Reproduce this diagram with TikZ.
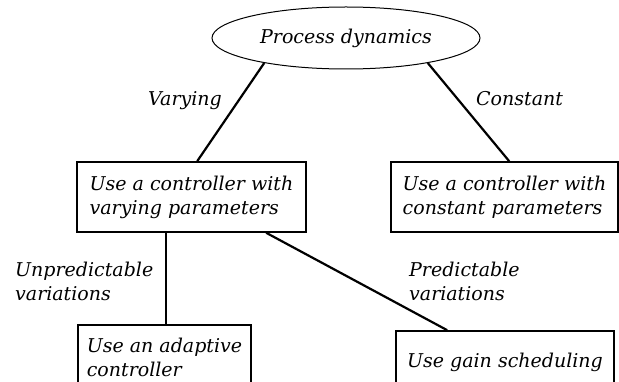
\documentclass[tikz,border=0pt]{standalone}
\usepackage{fontspec}
\setmainfont{DejaVu Serif}
\usetikzlibrary{shapes.geometric,calc}
\newcommand\diafont{\fontsize{19pt}{24pt}\selectfont\itshape}
\begin{document}
\begin{tikzpicture}[x=1pt,y=-1pt,
  every node/.style={font=\diafont},
  boxnode/.style={draw, line width=1.6pt, rectangle, inner sep=0pt, align=left},
  edgeline/.style={line width=2.2pt},
  lbl/.style={inner sep=0pt, anchor=base west, align=left}]
\useasboundingbox (0,0) rectangle (619,382);
\clip (0,0) rectangle (619,382);
\node[ellipse, draw, line width=1pt, minimum width=268pt, minimum height=62pt, inner sep=0pt] (pd) at (346,38) {Process dynamics};
\node[boxnode, minimum width=229pt, minimum height=70pt] (b1) at (191.5,197) {Use a controller with\\varying parameters};
\node[boxnode, minimum width=227pt, minimum height=70pt] (b2) at (504.5,197) {Use a controller with\\constant parameters};
\node[boxnode, minimum width=173pt, minimum height=65pt] (b3) at (164.5,357.5) {Use an adaptive\\controller};
\node[boxnode, minimum width=218pt, minimum height=62pt] (b4) at (505,362) {Use gain scheduling};
\node[lbl] (lv) at (148,106) {Varying};
\node[lbl] (lc) at (476,106) {Constant};
\node[lbl] (lu) at (15,301) {Unpredictable\\variations};
\node[lbl] (lp) at (409,301) {Predictable\\variations};
\draw[edgeline] (pd.197) -- ([xshift=121pt]b1.north west);
\draw[edgeline] (pd.343) -- ([xshift=119pt]b2.north west);
\draw[edgeline, line width=1.6pt] ([xshift=90pt]b1.south west) -- ([xshift=90pt]b1.south west |- b3.north);
\draw[edgeline] ([xshift=190pt]b1.south west) -- ([xshift=52pt]b4.north west);
\end{tikzpicture}
\end{document}
